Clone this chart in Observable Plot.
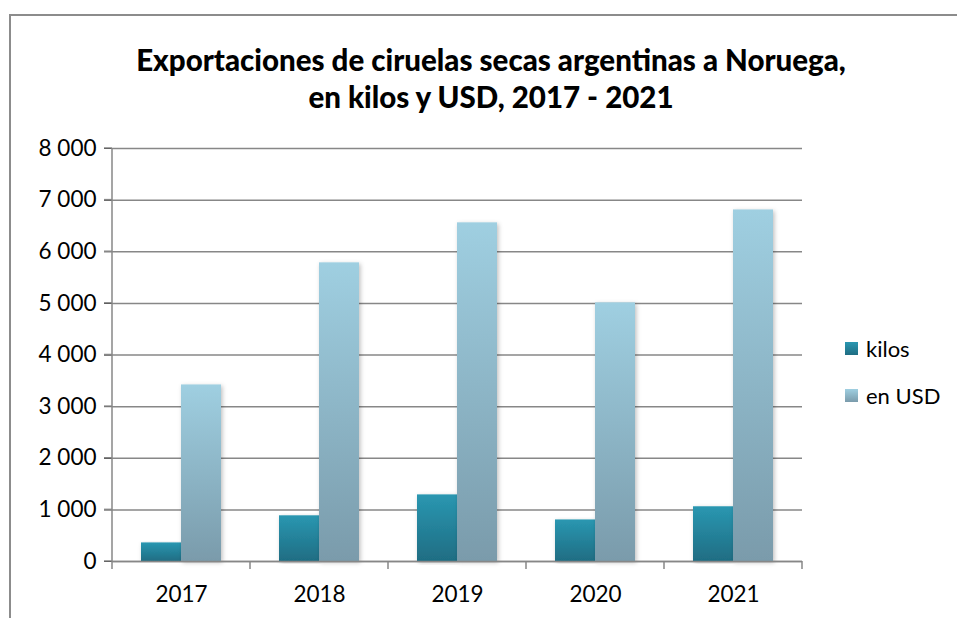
<!DOCTYPE html>
<html>
<head>
<meta charset="utf-8">
<script src="https://cdn.jsdelivr.net/npm/d3@7"></script>
<script src="https://cdn.jsdelivr.net/npm/@observablehq/plot@0.6"></script>
<style>
  html, body { margin: 0; padding: 0; background: #fff; }
  #wrap { position: relative; width: 957px; height: 618px; overflow: hidden; font-family: Lato, "Open Sans", sans-serif; }
  #border { position: absolute; left: 9px; top: 14px; width: 1000px; height: 1000px; border-left: 2px solid #8c8c8c; border-top: 2px solid #8c8c8c; box-sizing: border-box; }
  #title { position: absolute; left: 0; top: 41px; width: 982px; text-align: center; font-weight: 900; font-size: 29.5px; line-height: 37px; color: #000; }
  .leg { position: absolute; left: 845px; font-size: 22px; color: #000; display: flex; align-items: center; }
  .sw { width: 13px; height: 13px; margin-right: 8px; }
  #plot { position: absolute; left: 0; top: 0; }
</style>
</head>
<body>
<div id="wrap">
  <div id="border"></div>
  <div id="title">Exportaciones de ciruelas secas argentinas a Noruega,<br>en kilos y USD, 2017 - 2021</div>
  <div id="plot"></div>
  <div class="leg" style="top:335px"><div class="sw" style="background:linear-gradient(#2a97b1,#1f6d83)"></div>kilos</div>
  <div class="leg" style="top:382px"><div class="sw" style="background:linear-gradient(#9fcfe1,#7a9bab)"></div>en USD</div>
</div>
<script>
const years = ["2017", "2018", "2019", "2020", "2021"];
const series = ["kilos", "en USD"];
const kilos = [360, 885, 1290, 805, 1060];
const usd = [3420, 5785, 6560, 5010, 6810];
const yTicks = [0, 1000, 2000, 3000, 4000, 5000, 6000, 7000, 8000];

const data = [];
years.forEach((y, i) => {
  data.push({year: y, series: "kilos", value: kilos[i]});
  data.push({year: y, series: "en USD", value: usd[i]});
});

const fmt = d => d3.format(",")(d).replace(/,/g, "\u00a0");

const plot = Plot.plot({
  width: 957,
  height: 618,
  marginTop: 148,
  marginBottom: 57,
  marginLeft: 112,
  marginRight: 155,
  style: {fontFamily: "Lato, 'Open Sans', sans-serif", fontSize: "22.5px", color: "#000", background: "transparent"},
  fx: {domain: years, padding: 0, label: null, axis: "bottom", tickSize: 0, tickPadding: 25},
  x: {domain: series, paddingInner: 0, paddingOuter: 0.725, axis: null},
  y: {domain: [0, 8000], ticks: yTicks, tickFormat: fmt, tickSize: 8, tickPadding: 8, label: null, grid: false},
  marks: [
    Plot.ruleY(yTicks, {stroke: "#878787", strokeWidth: 1.5}),
    Plot.barY(data, {fx: "year", x: "series", y: "value",
      fill: d => d.series === "kilos" ? "url(#gKilos)" : "url(#gUsd)"}),
    Plot.ruleY([0], {stroke: "#878787", strokeWidth: 1.5})
  ]
});

// gradients and shadow
const svg = d3.select(plot.tagName === "svg" ? plot : plot.querySelector("svg"));
const defs = svg.insert("defs", ":first-child");
const g1 = defs.append("linearGradient").attr("id", "gKilos").attr("x1", 0).attr("y1", 0).attr("x2", 0).attr("y2", 1);
g1.append("stop").attr("offset", "0%").attr("stop-color", "#2a97b1");
g1.append("stop").attr("offset", "100%").attr("stop-color", "#1f6d83");
const g2 = defs.append("linearGradient").attr("id", "gUsd").attr("x1", 0).attr("y1", 0).attr("x2", 0).attr("y2", 1);
g2.append("stop").attr("offset", "0%").attr("stop-color", "#9fcfe1");
g2.append("stop").attr("offset", "100%").attr("stop-color", "#7a9bab");
const f = defs.append("filter").attr("id", "shadow").attr("x", "-20%").attr("y", "-5%").attr("width", "140%").attr("height", "110%");
f.append("feDropShadow").attr("dx", 1.5).attr("dy", 1.5).attr("stdDeviation", 2).attr("flood-color", "#000").attr("flood-opacity", 0.25);
svg.selectAll("rect").style("filter", "url(#shadow)");

// axis lines and category boundary ticks from scales
const fxs = plot.scale("fx");
const ys = plot.scale("y");
const y0 = ys.apply(0), y8 = ys.apply(8000);
const xL = fxs.apply(years[0]);
const axisG = svg.append("g").attr("stroke", "#878787").attr("stroke-width", 1.5);
axisG.append("line").attr("x1", xL).attr("x2", xL).attr("y1", y8).attr("y2", y0);
years.concat([null]).forEach((yr, i) => {
  const x = xL + i * fxs.step;
  axisG.append("line").attr("x1", x).attr("x2", x).attr("y1", y0).attr("y2", y0 + 8);
});
yTicks.forEach(t => {
  const y = ys.apply(t);
  axisG.append("line").attr("x1", xL - 8).attr("x2", xL).attr("y1", y).attr("y2", y);
});

document.getElementById("plot").appendChild(plot);
</script>
</body>
</html>
